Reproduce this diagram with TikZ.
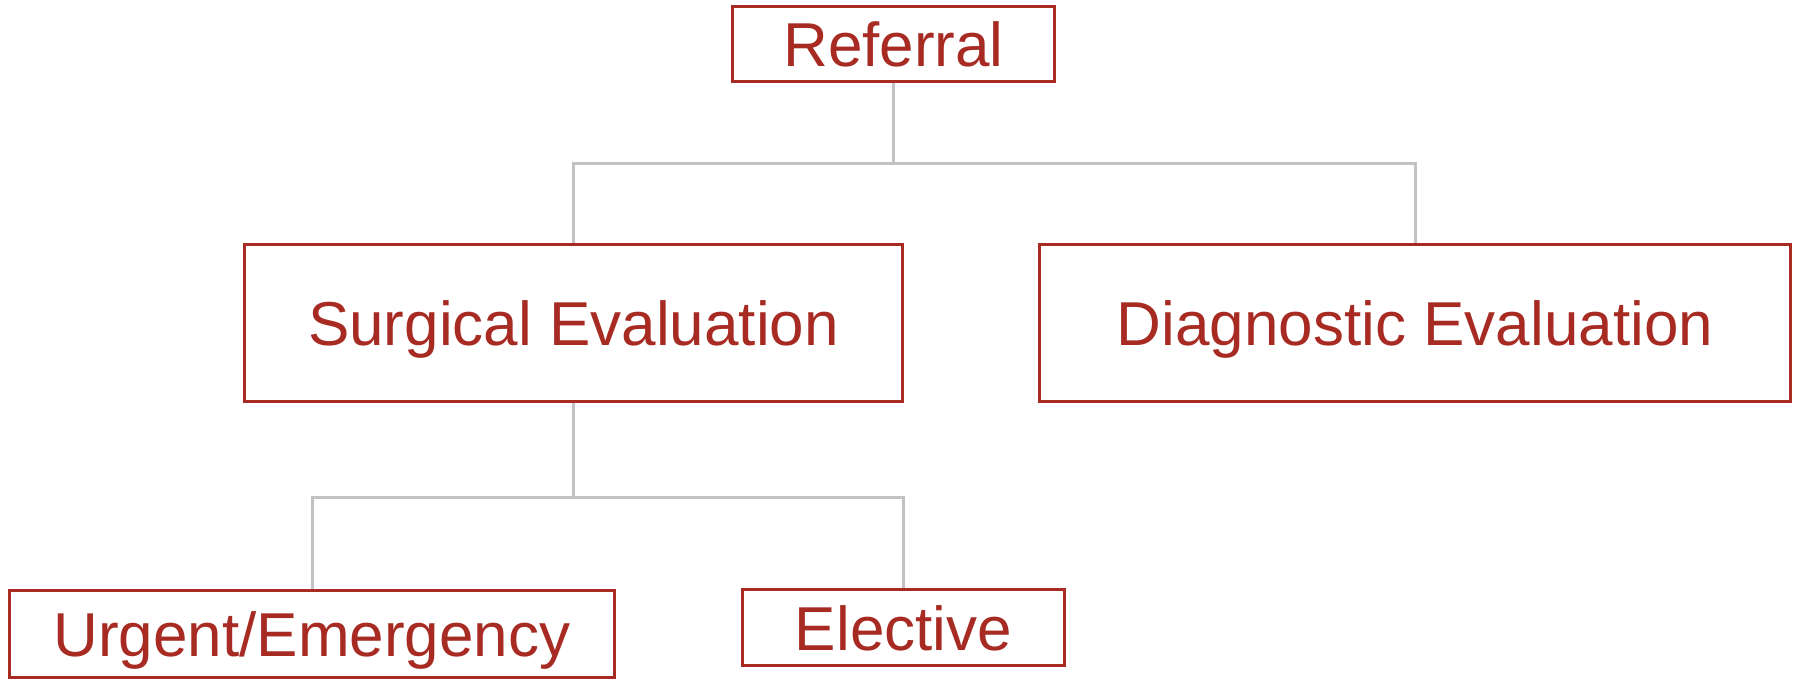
\documentclass[tikz,border=0pt]{standalone}
\usepackage{fontspec}
\setmainfont{Liberation Sans}
\usetikzlibrary{backgrounds}
\definecolor{boxred}{RGB}{167,43,35}
\definecolor{linkgray}{RGB}{194,194,194}
\begin{document}
\begin{tikzpicture}[x=1pt, y=-1pt,
	box/.style={draw=boxred, line width=3pt, text=boxred, inner sep=0pt,
		font=\fontsize{62}{74}\selectfont, text height=45pt, text depth=0pt},
	link/.style={draw=linkgray, line width=3pt}]
	\useasboundingbox (0,0) rectangle (1797,681);
	
	%boxes
	\node[box, minimum width=322pt, minimum height=75pt] (referral) at (893.5, 44){Referral};
	\node[box, minimum width=658pt, minimum height=157pt] (surgical) at (573.5, 323){Surgical Evaluation};
	\node[box, minimum width=751pt, minimum height=157pt] (diagnostic) at (1415, 323){Diagnostic Evaluation};
	\node[box, minimum width=605pt, minimum height=87pt] (urgent) at (312, 634){Urgent/Emergency};
	\node[box, minimum width=322pt, minimum height=76pt] (elective) at (903.5, 627.5){Elective};
	
	%links
	\coordinate (split1) at (893.5, 163);
	\coordinate (split2) at (573.5, 497);
	\begin{scope}[on background layer]
		\draw[link] (referral.south) -- (split1);
		\draw[link] (surgical.north) |- (split1) -| (diagnostic.north);
		\draw[link] (surgical.south) -- (split2);
		\draw[link] (urgent.north) |- (split2) -| (elective.north);
	\end{scope}
\end{tikzpicture}
\end{document}
